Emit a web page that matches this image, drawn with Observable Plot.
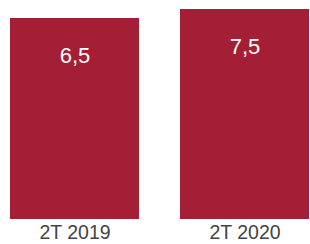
<!DOCTYPE html>
<html><head><meta charset="utf-8">
<script src="https://cdn.jsdelivr.net/npm/d3@7"></script>
<script src="https://cdn.jsdelivr.net/npm/@observablehq/plot@0.6"></script>
<style>html,body{margin:0;padding:0;background:#fff;}</style>
</head><body><div id="chart"></div>
<script>
const periods = ["2T 2019", "2T 2020"];
const values = [6.5, 7.5];
const labels = ["6,5", "7,5"];
const yBase = -15.83;
const yTop = 8.5;

const data = periods.map((p, i) => ({period: p, value: values[i], label: labels[i]}));

const chart = Plot.plot({
  width: 310,
  height: 244,
  marginLeft: 10,
  marginRight: 0,
  marginTop: 0,
  marginBottom: 25,
  style: {fontFamily: "'Liberation Sans', Arial, sans-serif", background: "#fff"},
  x: {domain: periods, paddingInner: 0.24, paddingOuter: 0, label: null},
  y: {domain: [yBase, yTop], axis: null},
  marks: [
    Plot.barY(data, {x: "period", y1: yBase, y2: "value", fill: "#a41f35"}),
    Plot.text(data, {x: "period", y: "value", text: "label", fill: "#fff", fontSize: 22, lineAnchor: "top", dy: 29}),
    Plot.axisX({tickSize: 0, tickPadding: 6, fontSize: 19.5, color: "#444", label: null})
  ]
});
document.getElementById("chart").appendChild(chart);
</script></body></html>
